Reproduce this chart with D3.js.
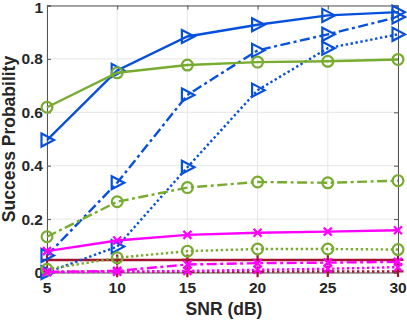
<!DOCTYPE html>
<html><head><meta charset="utf-8">
<script src="https://cdn.jsdelivr.net/npm/d3@7"></script>
<style>body{margin:0;background:#fff;}svg{display:block;}text{font-family:"Liberation Sans",Arial,sans-serif;font-weight:bold;fill:#262626;}</style>
</head><body><svg id="c" width="407" height="320"></svg>
<script>
const snr = [5, 10, 15, 20, 25, 30];
const xTicks = [5, 10, 15, 20, 25, 30];
const yTicks = [0, 0.2, 0.4, 0.6, 0.8, 1];
const yTickLabels = ["0", "0.2", "0.4", "0.6", "0.8", "1"];
const blueSolid = [0.496, 0.757, 0.884, 0.928, 0.963, 0.975];
const blueDashDot = [0.064, 0.336, 0.665, 0.832, 0.892, 0.957];
const blueDot = [0.0, 0.097, 0.394, 0.683, 0.840, 0.892];
const greenSolid = [0.619, 0.748, 0.777, 0.788, 0.791, 0.798];
const greenDashDot = [0.134, 0.265, 0.318, 0.339, 0.336, 0.344];
const greenDot = [0.012, 0.055, 0.080, 0.088, 0.088, 0.086];
const magentaSolid = [0.080, 0.120, 0.141, 0.149, 0.153, 0.158];
const magentaDashDot = [0.002, 0.006, 0.030, 0.035, 0.037, 0.040];
const magentaDot = [0.001, 0.003, 0.006, 0.010, 0.014, 0.020];
const redSolid = [0.047, 0.047, 0.047, 0.047, 0.047, 0.047];
const redDot = [0.003, 0.003, 0.003, 0.003, 0.004, 0.004];

const BLUE = "#0650dc", GREEN = "#77ac30", MAG = "#ff00ff", RED = "#a2142f";
const DASHDOT = "10,3.5,3,3.5", DOT = "2.4,2.6";

const series = [
  {v: redSolid, c: RED, d: null, m: "plus"},
  {v: redDot, c: RED, d: DOT, m: "plus"},
  {v: blueSolid, c: BLUE, d: null, m: "tri"},
  {v: blueDashDot, c: BLUE, d: DASHDOT, m: "tri"},
  {v: blueDot, c: BLUE, d: DOT, m: "tri"},
  {v: greenSolid, c: GREEN, d: null, m: "circ"},
  {v: greenDashDot, c: GREEN, d: DASHDOT, m: "circ"},
  {v: greenDot, c: GREEN, d: DOT, m: "circ"},
  {v: magentaSolid, c: MAG, d: null, m: "x"},
  {v: magentaDashDot, c: MAG, d: DASHDOT, m: "x"},
  {v: magentaDot, c: MAG, d: DOT, m: "x"}
];

const svg = d3.select("#c");
const x = d3.scaleLinear().domain([5, 30]).range([47, 398]);
const y = d3.scaleLinear().domain([0, 1]).range([272.5, 5.5]);

// grid
const g = svg.append("g");
g.selectAll("line.gx").data(xTicks).enter().append("line")
  .attr("x1", d => x(d)).attr("x2", d => x(d)).attr("y1", y(0)).attr("y2", y(1))
  .attr("stroke", "#e6e6e6").attr("stroke-width", 1);
g.selectAll("line.gy").data(yTicks).enter().append("line")
  .attr("y1", d => y(d)).attr("y2", d => y(d)).attr("x1", x(5)).attr("x2", x(30))
  .attr("stroke", "#e6e6e6").attr("stroke-width", 1);

// axes (inward ticks)
const axB = d3.axisBottom(x).tickValues(xTicks).tickSize(-4).tickFormat("");
const axT = d3.axisTop(x).tickValues(xTicks).tickSize(-4).tickFormat("");
const axL = d3.axisLeft(y).tickValues(yTicks).tickSize(-4).tickFormat("");
const axR = d3.axisRight(y).tickValues(yTicks).tickSize(-4).tickFormat("");
[[axB, `translate(0,${y(0)})`], [axT, `translate(0,${y(1)})`], [axL, `translate(${x(5)},0)`], [axR, `translate(${x(30)},0)`]].forEach(([a, t]) => {
  const ga = svg.append("g").attr("transform", t).call(a);
  ga.selectAll("path").attr("stroke", "#555").attr("stroke-width", 1);
  ga.selectAll("line").attr("stroke", "#555");
});

// tick labels
svg.selectAll("text.xt").data(xTicks).enter().append("text")
  .attr("x", d => x(d)).attr("y", 293).attr("text-anchor", "middle")
  .style("font-size", "15.5px").text(d => d);
svg.selectAll("text.yt").data(yTicks).enter().append("text")
  .attr("x", 43).attr("y", d => Math.max(y(d) + 5.5, 13)).attr("text-anchor", "end")
  .style("font-size", "15.5px").text((d, i) => yTickLabels[i]);

svg.append("text").attr("x", 224).attr("y", 315).attr("text-anchor", "middle")
  .style("font-size", "17.5px").text("SNR (dB)");
svg.append("text").attr("transform", "translate(15,139) rotate(-90)").attr("text-anchor", "middle")
  .style("font-size", "17.5px").text("Success Probability");

// series
const line = d3.line().x((d, i) => x(snr[i])).y(d => y(d));
series.forEach(s => {
  const gs = svg.append("g");
  gs.append("path").attr("d", line(s.v)).attr("fill", "none").attr("stroke", s.c)
    .attr("stroke-width", 2.4).attr("stroke-dasharray", s.d);
  const pts = s.v.map((d, i) => [x(snr[i]), y(d)]);
  pts.forEach(([px, py]) => {
    if (s.m === "tri") {
      gs.append("path").attr("d", `M${px - 5.5},${py - 6.5}L${px + 7},${py}L${px - 5.5},${py + 6.5}Z`)
        .attr("fill", "none").attr("stroke", s.c).attr("stroke-width", 2.2);
    } else if (s.m === "circ") {
      gs.append("circle").attr("cx", px).attr("cy", py).attr("r", 5.4)
        .attr("fill", "none").attr("stroke", s.c).attr("stroke-width", 2.2);
    } else if (s.m === "x") {
      gs.append("path").attr("d", `M${px - 4},${py - 4}L${px + 4},${py + 4}M${px - 4},${py + 4}L${px + 4},${py - 4}`)
        .attr("stroke", s.c).attr("stroke-width", 2.2);
    } else if (s.m === "plus") {
      gs.append("path").attr("d", `M${px},${py - 5.5}L${px},${py + 5.5}M${px - 5.5},${py}L${px + 5.5},${py}`)
        .attr("stroke", s.c).attr("stroke-width", 2.2);
    }
  });
});
</script></body></html>
